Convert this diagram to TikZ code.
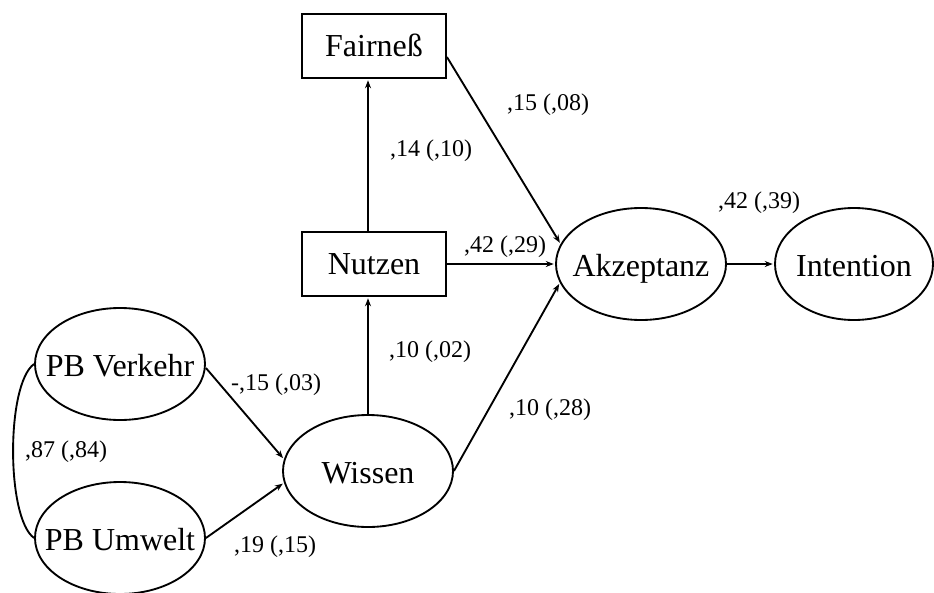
\documentclass[tikz,border=0pt]{standalone}
\usepackage{fontspec}
\setmainfont{Liberation Serif}
\usetikzlibrary{arrows.meta,shapes.geometric}

\tikzset{
  lat/.style={ellipse, draw, line width=1.4pt, inner xsep=-30pt, inner ysep=-12pt,
              minimum width=170*0.75pt, minimum height=112*0.75pt,
              text height=20pt, text depth=2pt,
              font=\fontsize{24}{27}\selectfont},
  obs/.style={rectangle, draw, line width=1.4pt, inner sep=0pt,
              minimum width=144*0.75pt, minimum height=64*0.75pt,
              text height=19pt, text depth=3pt,
              font=\fontsize{24}{27}\selectfont},
  path/.style={line width=1.4pt, -{Stealth[length=6pt,width=4.5pt]}, shorten >=1pt},
  coef/.style={font=\fontsize{18}{20}\selectfont, inner sep=0pt}
}

\begin{document}
\begin{tikzpicture}[x=0.75pt, y=-0.75pt]
  \useasboundingbox (0,0) rectangle (934,592);

  % constructs
  \node[obs] (fair) at (374,46)  {Fairneß};
  \node[obs] (nutz) at (374,264) {Nutzen};
  \node[lat] (akz)  at (641,264) {Akzeptanz};
  \node[lat, minimum width=158*0.75pt] (int) at (854,264) {Intention};
  \node[lat] (verk) at (120,364) {PB Verkehr};
  \node[lat] (umw)  at (120,538) {PB Umwelt};
  \node[lat] (wiss) at (368,471) {Wissen};

  % structural paths
  \draw[path] (verk.east) ++(0,4) -- (wiss.172);
  \draw[path] (umw.east) -- (wiss.188);
  \draw[path] (wiss.north) -- (wiss.north |- nutz.south);
  \draw[path] (wiss.north |- nutz.north) -- (wiss.north |- fair.south);
  \draw[path] (fair.east) ++(0,11) -- (akz.166);
  \draw[path] (nutz.east) -- (akz.west);
  \draw[path] (wiss.east) -- (akz.193);
  \draw[path] (akz.east) -- (int.west);

  % correlation between the two PB constructs
  \draw[line width=1.4pt] (verk.west) .. controls +(-28,20) and +(-28,-20) .. (umw.west);

  % coefficients
  \node[coef] (c1) at (548,105) {,15 (,08)};
  \node[coef] (c2) at (431,151) {,14 (,10)};
  \node[coef] (c3) at (505,247) {,42 (,29)};
  \node[coef] (c4) at (759,203) {,42 (,39)};
  \node[coef] (c5) at (430,352) {,10 (,02)};
  \node[coef] (c6) at (550,410) {,10 (,28)};
  \node[coef] (c7) at (276,385) {-,15 (,03)};
  \node[coef] (c8) at (66,452)  {,87 (,84)};
  \node[coef] (c9) at (275,547) {,19 (,15)};
\end{tikzpicture}
\end{document}
